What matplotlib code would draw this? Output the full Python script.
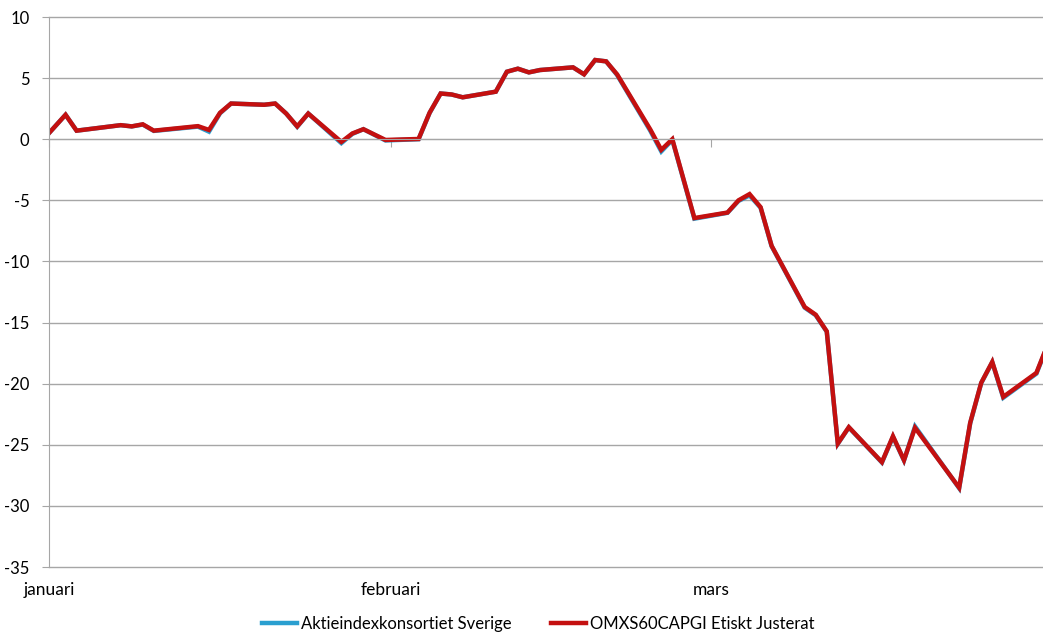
import matplotlib
matplotlib.use("Agg")
import matplotlib.pyplot as plt
import numpy as np
import pandas as pd

dates = ["2019-12-31",
         "2020-01-02", "2020-01-03", "2020-01-07", "2020-01-08", "2020-01-09", "2020-01-10",
         "2020-01-14", "2020-01-15", "2020-01-16", "2020-01-17", "2020-01-20", "2020-01-21",
         "2020-01-22", "2020-01-23", "2020-01-24", "2020-01-27", "2020-01-28", "2020-01-29",
         "2020-01-31", "2020-02-03", "2020-02-04", "2020-02-05", "2020-02-06", "2020-02-07",
         "2020-02-10", "2020-02-11", "2020-02-12", "2020-02-13", "2020-02-14", "2020-02-17",
         "2020-02-18", "2020-02-19", "2020-02-20", "2020-02-21", "2020-02-24", "2020-02-25",
         "2020-02-26", "2020-02-28", "2020-03-02", "2020-03-03", "2020-03-04", "2020-03-05",
         "2020-03-06", "2020-03-09", "2020-03-10", "2020-03-11", "2020-03-12", "2020-03-13",
         "2020-03-16", "2020-03-17", "2020-03-18", "2020-03-19", "2020-03-23", "2020-03-24",
         "2020-03-25", "2020-03-26", "2020-03-27", "2020-03-30", "2020-03-31"]

omxs60_etisk = [0.0,
                2.00, 0.70, 1.15, 1.05, 1.22, 0.70,
                1.07, 0.76, 2.16, 2.92, 2.82, 2.92,
                2.10, 1.05, 2.10, -0.22, 0.47, 0.82,
                -0.06, 0.02, 2.17, 3.74, 3.66, 3.43,
                3.89, 5.52, 5.77, 5.47, 5.66, 5.88,
                5.31, 6.48, 6.37, 5.30, 0.80, -0.87,
                0.00, -6.45, -6.00, -5.00, -4.49, -5.56,
                -8.72, -13.73, -14.36, -15.72, -24.90, -23.56,
                -26.42, -24.30, -26.26, -23.61, -28.51, -23.20,
                -19.93, -18.22, -21.08, -19.12, -16.85]

aktieindex = [0.0,
              2.00, 0.70, 1.15, 1.05, 1.20, 0.68,
              1.03, 0.62, 2.12, 2.92, 2.82, 2.92,
              2.10, 1.02, 2.10, -0.32, 0.44, 0.82,
              -0.10, 0.00, 2.15, 3.74, 3.66, 3.43,
              3.89, 5.52, 5.77, 5.47, 5.66, 5.88,
              5.31, 6.48, 6.37, 5.25, 0.70, -1.00,
              -0.05, -6.50, -6.02, -5.05, -4.60, -5.60,
              -8.75, -13.78, -14.40, -15.75, -24.92, -23.58,
              -26.45, -24.35, -26.28, -23.50, -28.55, -23.25,
              -19.95, -18.25, -21.15, -19.18, -16.90]

month_ticks = ["2020-01-01", "2020-02-01", "2020-03-01"]
month_labels = ["januari", "februari", "mars"]

plt.rcParams['font.family'] = ['Lato', 'DejaVu Sans']
plt.rcParams['axes.unicode_minus'] = False

x = pd.to_datetime(dates) + pd.Timedelta(hours=12)
grid_col = '#a6a6a6'

fig = plt.figure(figsize=(10.43, 6.39), dpi=100)
ax = fig.add_axes([49/1043, 1 - 567/639, 1 - 49/1043, 550/639])

ax.plot(x, aktieindex, color='#2a9fd0', lw=3.2, solid_joinstyle='miter', label='Aktieindexkonsortiet Sverige')
ax.plot(x, omxs60_etisk, color='#c41010', lw=3.2, solid_joinstyle='miter', label='OMXS60CAPGI Etiskt Justerat')

ax.set_ylim(-35, 10)
ax.set_yticks(np.arange(-35, 11, 5))
ax.yaxis.grid(True, color=grid_col, lw=1)
for gl in ax.get_ygridlines():
    gl.set_clip_on(False)
ax.set_axisbelow(True)
x0 = pd.Timestamp("2020-01-01")
ax.set_xlim(x0, x0 + pd.Timedelta(days=90.1))

for s in ['top', 'right']:
    ax.spines[s].set_visible(False)
ax.spines['left'].set_color(grid_col)
ax.spines['bottom'].set_position(('data', 0))
ax.spines['bottom'].set_color(grid_col)

tick_pos = pd.to_datetime(month_ticks)
ax.set_xticks(tick_pos)
ax.set_xticklabels([])
ax.tick_params(axis='x', direction='out', length=6, color=grid_col)
ax.tick_params(axis='y', direction='out', length=5, color=grid_col, labelsize=12, pad=9)

sec = ax.secondary_xaxis('bottom')
sec.set_xticks(tick_pos)
sec.set_xticklabels(month_labels, fontsize=12.5)
sec.tick_params(length=0, pad=11)
sec.spines['bottom'].set_visible(False)

fig.legend(loc='lower center', bbox_to_anchor=(0.516, -0.012), ncol=2, frameon=False,
           fontsize=12, handlelength=2.1, handletextpad=0.2, columnspacing=2.4)

fig.savefig('out.png', dpi=100)
